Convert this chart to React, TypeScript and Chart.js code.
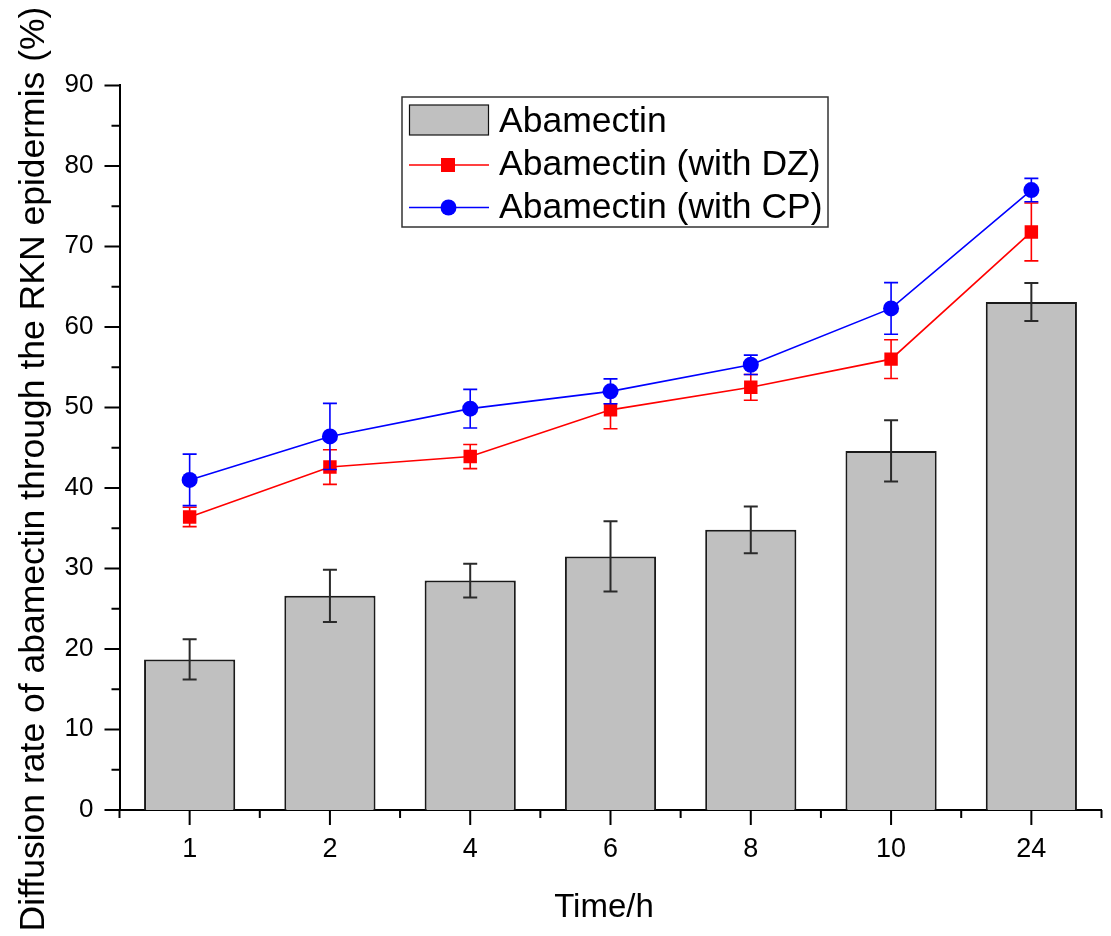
import React, { useEffect, useRef } from "react";
import { Chart, registerables } from "chart.js";

Chart.register(...registerables);

const categories = ["1", "2", "4", "6", "8", "10", "24"];
const abamectin = [18.7, 26.6, 28.5, 31.5, 34.8, 44.6, 63.1];
const abamectinErr = [2.5, 3.25, 2.1, 4.35, 2.9, 3.8, 2.35];
const withDZ = [36.4, 42.6, 43.9, 49.7, 52.5, 56.0, 71.8];
const withDZErr = [1.2, 2.15, 1.5, 2.35, 1.6, 2.4, 3.6];
const withCP = [41.0, 46.4, 49.85, 52.0, 55.3, 62.3, 77.0];
const withCPErr = [3.2, 4.1, 2.4, 1.55, 1.2, 3.2, 1.45];
const yTicks = [0, 10, 20, 30, 40, 50, 60, 70, 80, 90];
const yMinorTicks = [5, 15, 25, 35, 45, 55, 65, 75, 85];

const seriesNames = ["Abamectin", "Abamectin (with DZ)", "Abamectin (with CP)"];
const xTitle = "Time/h";
const yTitle = "Diffusion rate of abamectin through the RKN epidermis (%)";

const FONT = '"Liberation Sans", Arial, "DejaVu Sans", sans-serif';
const RED = "#ff0000";
const BLUE = "#0000ff";
const GRAY = "#c0c0c0";

const errorSets = [abamectinErr, withDZErr, withCPErr];
const errorColors = ["#2a2a2a", RED, BLUE];
const errorWidths = [2, 1.6, 1.6];

const customPlugin = {
  id: "customDraw",
  afterDatasetDraw(chart: any, args: any) {
    const idx = args.index;
    const meta = args.meta;
    const ds = chart.data.datasets[idx];
    const errs = errorSets[idx];
    const yScale = chart.scales.y;
    const ctx = chart.ctx;
    ctx.save();
    ctx.strokeStyle = errorColors[idx];
    ctx.lineWidth = errorWidths[idx];
    meta.data.forEach((el: any, i: number) => {
      const v = ds.data[i];
      const e = errs[i];
      const x = el.x;
      const yt = yScale.getPixelForValue(v + e);
      const yb = yScale.getPixelForValue(v - e);
      const cap = 7;
      ctx.beginPath();
      ctx.moveTo(x, yt);
      ctx.lineTo(x, yb);
      ctx.moveTo(x - cap, yt);
      ctx.lineTo(x + cap, yt);
      ctx.moveTo(x - cap, yb);
      ctx.lineTo(x + cap, yb);
      ctx.stroke();
    });
    ctx.restore();
  },
  afterDraw(chart: any) {
    const ctx = chart.ctx;
    const xs = chart.scales.x;
    const ys = chart.scales.y;
    const area = chart.chartArea;
    const axisX = area.left;
    const axisY = area.bottom;
    ctx.save();
    ctx.strokeStyle = "#000";
    ctx.fillStyle = "#000";
    ctx.lineWidth = 2;
    // y ticks
    ctx.beginPath();
    yTicks.forEach((v) => {
      const py = ys.getPixelForValue(v);
      ctx.moveTo(axisX - 15, py);
      ctx.lineTo(axisX, py);
    });
    yMinorTicks.forEach((v) => {
      const py = ys.getPixelForValue(v);
      ctx.moveTo(axisX - 8, py);
      ctx.lineTo(axisX, py);
    });
    // x ticks
    const half = (xs.getPixelForValue(1) - xs.getPixelForValue(0)) / 2;
    categories.forEach((_, i) => {
      const px = xs.getPixelForValue(i);
      ctx.moveTo(px, axisY);
      ctx.lineTo(px, axisY + 15);
      ctx.moveTo(px - half, axisY);
      ctx.lineTo(px - half, axisY + 8);
      if (i === categories.length - 1) {
        ctx.moveTo(px + half, axisY);
        ctx.lineTo(px + half, axisY + 8);
      }
    });
    ctx.stroke();

    // y labels
    ctx.font = `26px ${FONT}`;
    ctx.textAlign = "right";
    ctx.textBaseline = "alphabetic";
    yTicks.forEach((v) => {
      const py = ys.getPixelForValue(v);
      ctx.fillText(String(v), axisX - 26, py + 7);
    });
    // x labels
    ctx.font = `27px ${FONT}`;
    ctx.textAlign = "center";
    categories.forEach((c, i) => {
      const px = xs.getPixelForValue(i);
      ctx.fillText(c, px, axisY + 47);
    });
    // x title
    ctx.font = `33px ${FONT}`;
    ctx.fillText(xTitle, 604, 917);
    // y title
    ctx.save();
    ctx.translate(43.5, 469);
    ctx.rotate(-Math.PI / 2);
    ctx.font = `35.5px ${FONT}`;
    ctx.textAlign = "center";
    ctx.fillText(yTitle, 0, 0);
    ctx.restore();

    // legend
    ctx.lineWidth = 1.5;
    ctx.strokeStyle = "#333";
    ctx.fillStyle = "#fff";
    ctx.fillRect(402, 97, 426, 130);
    ctx.strokeRect(402, 97, 426, 130);
    ctx.fillStyle = GRAY;
    ctx.fillRect(409.5, 105, 79, 30);
    ctx.strokeStyle = "#111";
    ctx.lineWidth = 1.2;
    ctx.strokeRect(409.5, 105, 79, 30);
    // DZ row
    ctx.strokeStyle = RED;
    ctx.lineWidth = 1.6;
    ctx.beginPath();
    ctx.moveTo(409, 165);
    ctx.lineTo(489, 165);
    ctx.stroke();
    ctx.fillStyle = RED;
    ctx.fillRect(448 - 7, 165 - 7, 14, 14);
    // CP row
    ctx.strokeStyle = BLUE;
    ctx.beginPath();
    ctx.moveTo(409, 207.5);
    ctx.lineTo(489, 207.5);
    ctx.stroke();
    ctx.fillStyle = BLUE;
    ctx.beginPath();
    ctx.arc(448.5, 207.5, 8, 0, Math.PI * 2);
    ctx.fill();
    // legend text
    ctx.fillStyle = "#000";
    ctx.font = `35.5px ${FONT}`;
    ctx.textAlign = "left";
    ctx.textBaseline = "alphabetic";
    ctx.fillText(seriesNames[0], 499, 132);
    ctx.fillText(seriesNames[1], 499, 175);
    ctx.fillText(seriesNames[2], 499, 218);
    ctx.restore();
  },
};

export default function App() {
  const canvasRef = useRef<HTMLCanvasElement | null>(null);

  useEffect(() => {
    const canvas = canvasRef.current;
    if (!canvas) return;
    const chart = new Chart(canvas, {
      type: "bar",
      data: {
        labels: categories,
        datasets: [
          {
            type: "bar",
            label: seriesNames[0],
            data: abamectin,
            backgroundColor: GRAY,
            borderColor: "#1a1a1a",
            borderWidth: 2,
            borderSkipped: "bottom",
            barPercentage: 0.65,
            categoryPercentage: 1,
            order: 3,
          } as any,
          {
            type: "line",
            label: seriesNames[1],
            data: withDZ,
            borderColor: RED,
            backgroundColor: RED,
            borderWidth: 1.6,
            pointStyle: "rect",
            pointRadius: 9.5,
            pointBorderWidth: 0,
            tension: 0,
            order: 2,
          } as any,
          {
            type: "line",
            label: seriesNames[2],
            data: withCP,
            borderColor: BLUE,
            backgroundColor: BLUE,
            borderWidth: 1.6,
            pointStyle: "circle",
            pointRadius: 8,
            pointBorderWidth: 0,
            tension: 0,
            order: 1,
          } as any,
        ],
      },
      options: {
        responsive: false,
        animation: false,
        devicePixelRatio: 1,
        layout: { padding: { left: 0, top: 85.4, right: 9.5, bottom: 0 } },
        plugins: {
          legend: { display: false },
          tooltip: { enabled: false },
          title: { display: false },
        },
        scales: {
          x: {
            type: "category",
            offset: true,
            grid: { display: false, drawTicks: false },
            border: { display: true, color: "#000", width: 2 },
            ticks: { display: false },
            afterFit: (s: any) => {
              s.height = 126;
            },
          },
          y: {
            type: "linear",
            min: 0,
            max: 90,
            grid: { display: false, drawTicks: false },
            border: { display: true, color: "#000", width: 2 },
            ticks: { display: false, stepSize: 10 },
            afterFit: (s: any) => {
              s.width = 119.5;
            },
          },
        },
      } as any,
      plugins: [customPlugin],
    });
    return () => chart.destroy();
  }, []);

  return (
    <div style={{ position: "fixed", left: 0, top: 0, width: 1111, height: 936, background: "#fff" }}>
      <canvas ref={canvasRef} width={1111} height={936} style={{ display: "block" }} />
    </div>
  );
}
